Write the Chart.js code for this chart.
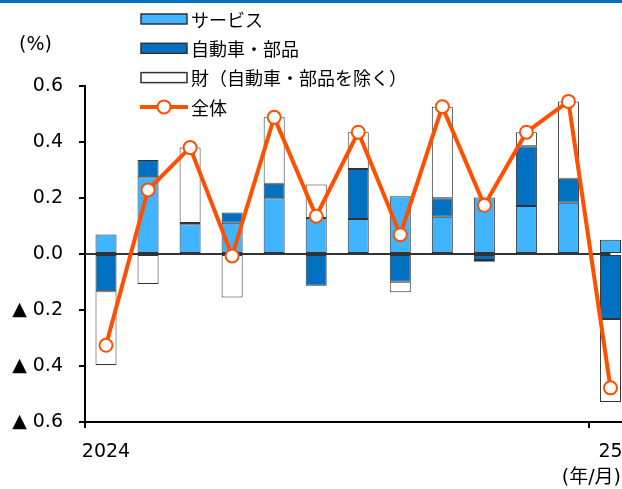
<!DOCTYPE html>
<html lang="ja">
<head>
<meta charset="utf-8">
<title>寄与度分解</title>
<script src="https://cdn.jsdelivr.net/npm/chart.js@4/dist/chart.umd.min.js"></script>
<style>
  html, body { margin: 0; padding: 0; background: #fff; overflow: hidden; }
  #wrap { width: 622px; height: 489px; overflow: hidden; position: relative; }
  canvas { display: block; }
</style>
</head>
<body>
<div id="wrap"><canvas id="chart" width="640" height="489"></canvas></div>
<script>
// Months shown on the category axis (2024/1 – 2025/1)
const months = ['2024/1','2024/2','2024/3','2024/4','2024/5','2024/6','2024/7',
                '2024/8','2024/9','2024/10','2024/11','2024/12','2025/1'];
// Text printed under each month (only the year starts are labelled)
const tickLabels = ['2024','','','','','','','','','','','','25'];

// Contributions (percentage points)
const services = [0.070, 0.274, 0.106, 0.112, 0.199, 0.129, 0.125, 0.206, 0.133, 0.202, 0.171, 0.183, 0.051];
const autos    = [-0.133, 0.062, 0.005, 0.036, 0.052, -0.113, 0.179, -0.099, 0.066, -0.021, 0.214, 0.086, -0.232];
const goods    = [-0.263, -0.107, 0.269, -0.155, 0.237, 0.119, 0.131, -0.038, 0.327, -0.007, 0.050, 0.276, -0.297];
// Overall change (%)
const total    = [-0.326, 0.229, 0.380, -0.007, 0.488, 0.135, 0.435, 0.069, 0.526, 0.174, 0.435, 0.545, -0.478];

// Axis range
const yMin = -0.6, yMax = 0.6, yStep = 0.2;

const COL_SERV = '#41B4FF';
const COL_AUTO = '#0070C0';
const COL_GOODS = '#FFFFFF';
const COL_TOTAL = '#FF5000';
const COL_EDGE = '#333333';
const FONT_NUM = "'DejaVu Sans', 'Noto Sans CJK JP', sans-serif";
const FONT_JP = "'Noto Sans CJK JP', 'Noto Sans', sans-serif";

Chart.defaults.font.family = FONT_NUM;
Chart.defaults.color = '#000';

// Zero line sits on top of the bars but under the overall line
const zeroLine = {
  id: 'zeroLine',
  beforeDatasetDraw(chart, args) {
    if (chart.data.datasets[args.index].type !== 'line') return;
    const { ctx, chartArea, scales } = chart;
    const y = scales.y.getPixelForValue(0);
    const xEnd = scales.x.getPixelForValue(months.length - 1);
    ctx.save();
    ctx.strokeStyle = COL_EDGE;
    ctx.lineWidth = 2;
    ctx.beginPath();
    ctx.moveTo(chartArea.left, y);
    ctx.lineTo(xEnd, y);
    ctx.stroke();
    ctx.restore();
  }
};

// Header rule, legend and unit captions
const decorations = {
  id: 'decorations',
  afterDraw(chart) {
    const ctx = chart.ctx;
    ctx.save();
    // top rule
    ctx.fillStyle = COL_AUTO;
    ctx.fillRect(0, 0, chart.width, 3);

    // legend
    const items = [
      { label: 'サービス', kind: 'box', fill: COL_SERV },
      { label: '自動車・部品', kind: 'box', fill: COL_AUTO },
      { label: '財（自動車・部品を除く）', kind: 'box', fill: COL_GOODS },
      { label: '全体', kind: 'line' }
    ];
    const lx = 141, bw = 46, bh = 10, rowY0 = 19, rowGap = 29.3;
    ctx.font = '18px ' + FONT_JP;
    ctx.textBaseline = 'middle';
    ctx.textAlign = 'left';
    items.forEach((it, i) => {
      const cy = rowY0 + i * rowGap;
      if (it.kind === 'box') {
        ctx.fillStyle = it.fill;
        ctx.fillRect(lx, cy - bh / 2, bw, bh);
        ctx.strokeStyle = COL_EDGE;
        ctx.lineWidth = 1.5;
        ctx.strokeRect(lx, cy - bh / 2, bw, bh);
      } else {
        ctx.strokeStyle = COL_TOTAL;
        ctx.lineWidth = 4;
        ctx.beginPath();
        ctx.moveTo(lx - 1, cy);
        ctx.lineTo(lx + bw + 1, cy);
        ctx.stroke();
        ctx.beginPath();
        ctx.arc(lx + bw / 2, cy, 6.5, 0, Math.PI * 2);
        ctx.fillStyle = '#fff';
        ctx.fill();
        ctx.lineWidth = 2;
        ctx.stroke();
      }
      ctx.fillStyle = '#000';
      ctx.fillText(it.label, lx + bw + 4, cy + 1);
    });

    // unit captions
    ctx.font = '19px ' + FONT_NUM;
    ctx.textAlign = 'left';
    ctx.fillText('(%)', 19, 45);
    ctx.textAlign = 'right';
    ctx.fillText('(年/月)', 621, 478);
    ctx.restore();
  }
};

new Chart(document.getElementById('chart'), {
  data: {
    labels: months,
    datasets: [
      {
        type: 'line',
        label: '全体',
        data: total,
        order: 0,
        borderColor: COL_TOTAL,
        borderWidth: 4,
        pointRadius: 6.5,
        pointBorderWidth: 2,
        pointBackgroundColor: '#fff',
        pointBorderColor: COL_TOTAL,
        tension: 0,
        clip: false
      },
      {
        type: 'bar',
        label: 'サービス',
        data: services,
        order: 1,
        backgroundColor: COL_SERV,
        borderColor: COL_EDGE,
        borderWidth: 1,
        borderSkipped: false
      },
      {
        type: 'bar',
        label: '自動車・部品',
        data: autos,
        order: 1,
        backgroundColor: COL_AUTO,
        borderColor: COL_EDGE,
        borderWidth: 1,
        borderSkipped: false
      },
      {
        type: 'bar',
        label: '財（自動車・部品を除く）',
        data: goods,
        order: 1,
        backgroundColor: COL_GOODS,
        borderColor: COL_EDGE,
        borderWidth: 1,
        borderSkipped: false
      }
    ]
  },
  options: {
    responsive: false,
    animation: false,
    devicePixelRatio: 1,
    layout: { padding: { top: 86, right: 6.4, bottom: 0, left: 0 } },
    datasets: { bar: { categoryPercentage: 0.5, barPercentage: 1.0 } },
    plugins: { legend: { display: false }, tooltip: { enabled: false } },
    scales: {
      x: {
        stacked: true,
        offset: true,
        afterFit(scale) { scale.height = 67; },
        grid: {
          offset: true,
          drawOnChartArea: false,
          tickLength: 6,
          lineWidth: 2,
          color: ctx => (ctx.index === 0 || ctx.index === 12) ? '#000' : 'rgba(0,0,0,0)'
        },
        border: { display: true, color: '#000', width: 2 },
        ticks: {
          autoSkip: false,
          maxRotation: 0,
          padding: 13,
          font: { size: 19 },
          color: '#000',
          callback: (v, i) => tickLabels[i]
        }
      },
      y: {
        stacked: true,
        min: yMin,
        max: yMax,
        afterFit(scale) { scale.width = 85; },
        grid: { drawOnChartArea: false, tickLength: 6, lineWidth: 2, color: '#000' },
        border: { display: true, color: '#000', width: 2 },
        ticks: {
          stepSize: yStep,
          padding: 16,
          font: { size: 19 },
          color: '#000',
          callback: v => {
            if (Math.abs(v) < 1e-9) return '0.0';
            return v < 0 ? '▲ ' + Math.abs(v).toFixed(1) : v.toFixed(1);
          }
        }
      }
    }
  },
  plugins: [zeroLine, decorations]
});
</script>
</body>
</html>
